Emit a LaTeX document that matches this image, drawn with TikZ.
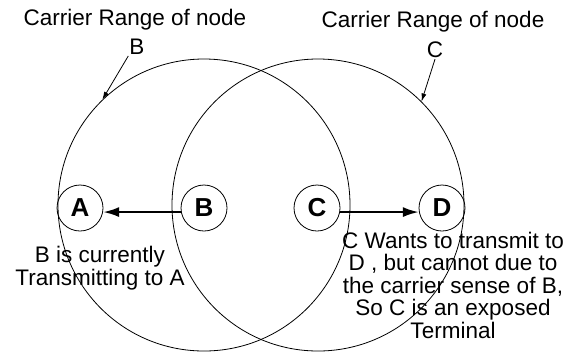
\documentclass[tikz,border=0pt]{standalone}
\usepackage{fontspec}
\setmainfont{Liberation Sans}
\usetikzlibrary{arrows.meta,positioning}
\tikzset{
  rangecirc/.style={circle, draw, line width=0.8pt, minimum size=292bp, inner sep=0pt},
  station/.style={circle, draw, line width=0.8pt, minimum size=46bp, inner sep=0pt,
    font=\fontsize{26bp}{26bp}\selectfont\bfseries},
  note/.style={align=center, inner sep=1pt, font=\fontsize{22.5bp}{22.5bp}\selectfont},
  pointer/.style={-{Latex[length=8bp,width=5bp]}, line width=0.8pt},
  sendln/.style={-{Latex[length=16bp,width=10bp]}, line width=2.4pt},
}

\begin{document}
\begin{tikzpicture}[x=1bp,y=-1bp]
    \useasboundingbox (0,0) rectangle (568,358);
    % stations
    \node[station] (A) at (80,208) {A};
    \node[station] (B) at (204,208) {B};
    \node[station] (C) at (317,208) {C};
    \node[station] (D) at (442,208) {D};
    % carrier ranges
    \node[rangecirc] (rangeB) at (204,205) {};
    \node[rangecirc] (rangeC) at (318,205) {};
    % labels of the ranges
    \node[note] (topB) at (135,20) {Carrier Range of node};
    \node[note] (lblB) at (137,47) {B};
    \node[note] (topC) at (433,22) {Carrier Range of node};
    \node[note] (lblC) at (435,50) {C};
    \draw[pointer] (lblB.south west) -- (rangeB.134);
    \draw[pointer] (lblC.south) -- (rangeC.45);
    % transmissions
    \draw[sendln] (B.190) -- (A.-10);
    \draw[sendln] (C.-10) -- (D.190);
    \node[note] (txtB) at (100,268) {B is currently\\Transmitting to A};
    \node[note] (txtC) at (453,285) {C Wants to transmit to\\D , but cannot due to\\the carrier sense of B,\\So C is an exposed\\Terminal};
\end{tikzpicture}
\end{document}
